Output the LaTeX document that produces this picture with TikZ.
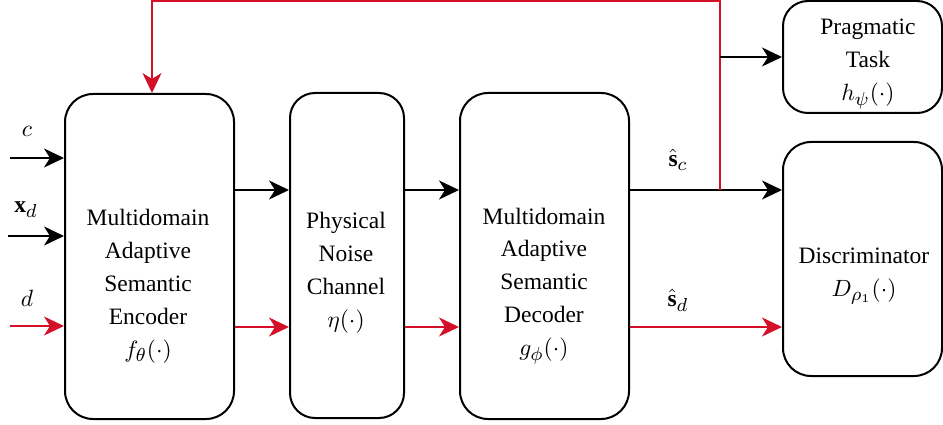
\documentclass[tikz,border=0pt]{standalone}
\usepackage{fontspec}
\setmainfont{Liberation Serif}
\DeclareMathSizes{10}{10}{7.7}{5.5}
\usetikzlibrary{arrows.meta}
\definecolor{fbred}{RGB}{212,16,40}
\tikzset{
  blk/.style={draw=black, line width=2pt, rounded corners=#1, inner sep=0pt},
  blk/.default=28pt,
  lbl/.style={align=center, inner sep=0pt, font=\fontsize{10}{14}\selectfont,
              scale=2.35, transform shape},
  arr/.style={line width=2pt, -{Stealth[length=20pt,width=19pt,inset=6pt]}},
  redarr/.style={arr, draw=fbred, color=fbred},
}
\begin{document}
\begin{tikzpicture}[x=1pt,y=-1pt]
\useasboundingbox (0,0) rectangle (943,425);

% processing blocks
\node[blk, minimum width=169pt, minimum height=325pt] (enc) at (149.5,256.5) {};
\node[blk=25pt, minimum width=114pt, minimum height=325pt] (chan) at (347,255.5) {};
\node[blk, minimum width=169pt, minimum height=326pt] (dec) at (544.5,256) {};
\node[blk=25pt, minimum width=159pt, minimum height=112pt] (task) at (862.5,57) {};
\node[blk, minimum width=159pt, minimum height=234pt] (disc) at (862.5,259) {};

% block captions
\node[lbl] (enctxt) at (148,286) {Multidomain\\Adaptive\\Semantic\\Encoder\\$f_\theta(\cdot)$};
\node[lbl] (chantxt) at (346,273) {Physical\\Noise\\Channel\\$\eta(\cdot)$};
\node[lbl] (dectxt) at (544,286) {Multidomain\\Adaptive\\Semantic\\Decoder\\$g_\phi(\cdot)$};
\node[lbl] (tasktxt) at (868,64) {Pragmatic\\Task\\$h_\psi(\cdot)$};
\node[lbl] (disctxt) at (864,276) {Discriminator\\$D_{\rho_1}(\cdot)$};

% inputs
\coordinate (cin) at (10,158);
\coordinate (xin) at (8,236);
\coordinate (din) at (10,326);
\draw[arr] (cin) -- (cin -| enc.west);
\draw[arr] (xin) -- (xin -| enc.west);
\draw[redarr] (din) -- (din -| enc.west);
\node[lbl] (clbl) at (27,131) {$c$};
\node[lbl] (xlbl) at (26,210) {$\mathbf{x}_d$};
\node[lbl] (dlbl) at (27,298) {$d$};

% chain of blocks
\coordinate (up) at (0,190);
\coordinate (lo) at (0,327);
\draw[arr] (up -| enc.east) -- (up -| chan.west);
\draw[redarr] (lo -| enc.east) -- (lo -| chan.west);
\draw[arr] (up -| chan.east) -- (up -| dec.west);
\draw[redarr] (lo -| chan.east) -- (lo -| dec.west);
\draw[arr] (up -| dec.east) -- (up -| disc.west);
\draw[redarr] (lo -| dec.east) -- (lo -| disc.west);
\node[lbl] (sclbl) at (678,160) {$\hat{\mathbf{s}}_c$};
\node[lbl] (sdlbl) at (678,300) {$\hat{\mathbf{s}}_d$};

% feedback loop and branch to the task head
\coordinate (split) at (720,190);
\coordinate (topr) at (720,1);
\coordinate (topl) at (152,1);
\draw[redarr] (split) -- (topr) -- (topl) -- (topl |- enc.north);
\coordinate (tap) at (720,57);
\draw[arr] (tap) -- (tap -| task.west);
\end{tikzpicture}
\end{document}
